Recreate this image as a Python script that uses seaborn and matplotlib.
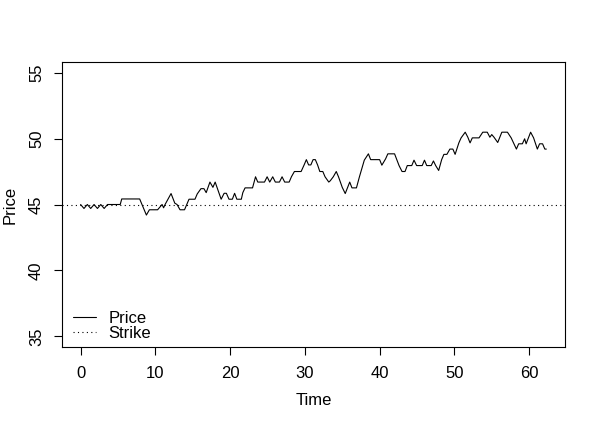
import pandas as pd
import matplotlib
matplotlib.use("Agg")
import matplotlib.pyplot as plt
import seaborn as sns

# Price path (time, price)
time = [0, 0.45, 0.9, 1.35, 1.8, 2.25, 2.7, 3.15, 3.6, 3.9, 5.3, 5.5, 7.9, 8.8, 9.2, 10.3,
        10.9, 11.1, 11.3, 12.1, 12.6, 12.9, 13.3, 13.9, 14.2, 14.5, 15.3, 15.6, 16.1, 16.5,
        16.8, 17.3, 17.7, 18.0, 18.8, 19.2, 19.5, 19.85, 20.3, 20.6, 20.9, 21.5, 21.7, 22.0,
        23.0, 23.4, 23.7, 24.6, 24.95, 25.3, 25.7, 26.05, 26.6, 26.95, 27.3, 27.9, 28.2, 28.6,
        29.5, 29.9, 30.2, 30.5, 30.8, 31.1, 31.4, 31.7, 32.0, 32.4, 32.7, 33.2, 33.4, 33.8,
        34.2, 34.5, 35.0, 35.4, 35.7, 36.0, 36.3, 36.9, 37.3, 37.95, 38.5, 38.8, 40.0, 40.3,
        40.8, 41.1, 42.0, 42.3, 42.6, 43.0, 43.4, 43.7, 44.3, 44.6, 44.95, 45.7, 46.0, 46.3,
        46.9, 47.2, 47.5, 47.9, 48.3, 48.6, 49.0, 49.4, 49.8, 50.1, 50.6, 50.9, 51.45, 51.8,
        52.1, 52.4, 53.3, 53.8, 54.4, 54.75, 55.0, 55.3, 55.8, 56.35, 57.1, 57.6, 58.3, 58.6,
        59.1, 59.4, 59.6, 60.2, 60.6, 61.1, 61.4, 61.8, 62.1, 62.3]
price = [45.0, 44.7, 45.0, 44.7, 45.0, 44.7, 45.0, 44.7, 45.0, 45.0, 45.0, 45.42, 45.42, 44.2, 44.6, 44.6,
         45.0, 44.75, 45.0, 45.83, 45.1, 45.0, 44.6, 44.6, 45.0, 45.4, 45.4, 45.8, 46.2, 46.2,
         45.9, 46.7, 46.3, 46.7, 45.4, 45.85, 45.85, 45.4, 45.4, 45.85, 45.4, 45.4, 45.9, 46.26,
         46.26, 47.1, 46.7, 46.7, 47.1, 46.7, 47.1, 46.7, 46.7, 47.1, 46.7, 46.7, 47.1, 47.5,
         47.5, 48.0, 48.4, 48.0, 48.0, 48.4, 48.4, 48.0, 47.5, 47.5, 47.1, 46.7, 46.8, 47.1,
         47.5, 47.1, 46.3, 45.83, 46.26, 46.7, 46.26, 46.26, 47.1, 48.36, 48.84, 48.4, 48.4, 47.98,
         48.46, 48.84, 48.84, 48.4, 47.95, 47.5, 47.5, 47.95, 47.95, 48.36, 47.95, 47.95, 48.36, 47.95,
         47.95, 48.3, 47.95, 47.58, 48.4, 48.8, 48.8, 49.2, 49.2, 48.8, 49.67, 50.05, 50.48, 50.1,
         49.67, 50.05, 50.05, 50.48, 50.48, 50.1, 50.3, 50.1, 49.7, 50.48, 50.48, 50.05, 49.2, 49.6,
         49.6, 49.98, 49.6, 50.48, 50.05, 49.2, 49.6, 49.6, 49.2, 49.2]
strike = 45

df = pd.DataFrame({"Time": time, "Price": price})

sns.set_style("white")
plt.rcParams['font.family'] = ['Liberation Sans', 'DejaVu Sans']
plt.rcParams.update({"text.color": "black", "axes.labelcolor": "black",
                     "xtick.color": "black", "ytick.color": "black"})

fig = plt.figure(figsize=(5.98, 4.25), dpi=100)
ax = fig.add_axes([62 / 598, 1 - 347 / 425, 503 / 598, 285 / 425])

sns.lineplot(data=df, x="Time", y="Price", ax=ax, color="black", lw=0.8,
             estimator=None, sort=False, label="Price")
ax.axhline(strike, color="black", lw=0.8, linestyle=(0, (1, 3)), label="Strike")

ax.set_xlim(-2.49, 64.8)
ax.set_ylim(34.2, 55.8)
ax.set_xticks([0, 10, 20, 30, 40, 50, 60])
ax.set_yticks([35, 40, 45, 50, 55])
ax.tick_params(axis="both", direction="out", length=6, width=0.8, labelsize=12,
               color="black", left=True, bottom=True)
ax.tick_params(axis="x", pad=8)
ax.tick_params(axis="y", pad=7)
for lbl in ax.get_yticklabels():
    lbl.set_rotation(90)
    lbl.set_va("center")
for s in ax.spines.values():
    s.set_color("black")
    s.set_linewidth(0.8)
ax.set_xlabel("Time", fontsize=12, labelpad=8)
ax.set_ylabel("Price", fontsize=12, labelpad=8)

ax.legend(loc="lower left", bbox_to_anchor=(5 / 503, 0), frameon=False, fontsize=12,
          handlelength=1.4, labelspacing=0.0, borderaxespad=0.0, borderpad=0.35,
          handletextpad=0.75)

fig.savefig("out.png", dpi=100)
